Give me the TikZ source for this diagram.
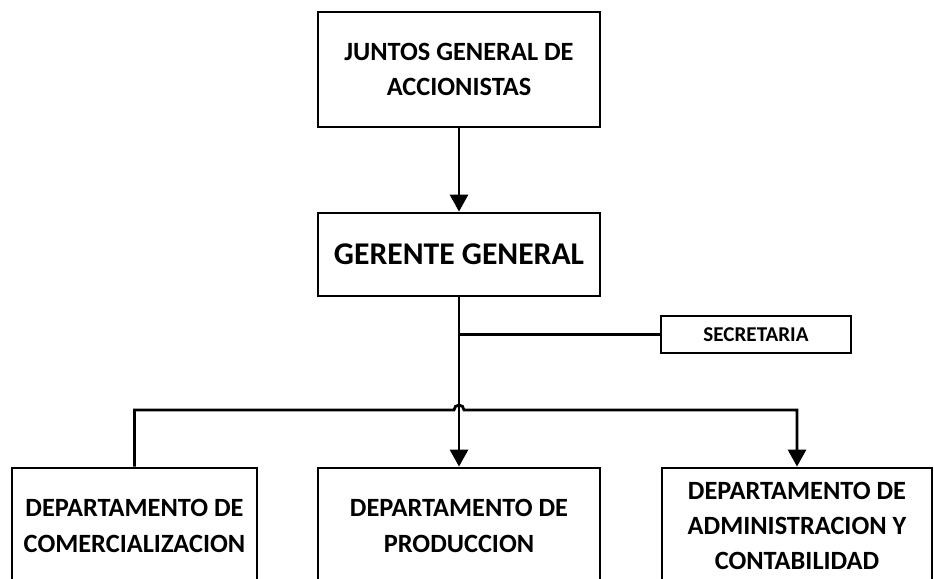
\documentclass[tikz,border=0pt]{standalone}
\usepackage{fontspec}
\setmainfont{Carlito}
\usetikzlibrary{arrows.meta}

\tikzset{
	caja/.style={draw, line width=1.6pt, align=center, font=\bfseries\fontsize{15}{20}\selectfont, inner sep=0pt},
	flecha/.style={line width=1.6pt, -{Triangle[width=0.36cm,length=0.34cm]}},
	linea/.style={line width=1.6pt}
}

\begin{document}
\begin{tikzpicture}
		\useasboundingbox (0,0) rectangle (18.68,-11.58);
		\clip (0,0) rectangle (18.68,-11.58);
		%Cajas
		\node [caja, minimum width=5.64cm, minimum height=2.3cm] (junta) at (9.18,-1.39) {JUNTOS GENERAL DE\\ACCIONISTAS};
		\node [caja, minimum width=5.64cm, minimum height=1.66cm, font=\bfseries\fontsize{18}{22}\selectfont] (gerente) at (9.18,-5.09) {GERENTE GENERAL};
		\node [caja, minimum width=3.8cm, minimum height=0.74cm, font=\bfseries\fontsize{12}{14}\selectfont] (secretaria) at (15.12,-6.69) {SECRETARIA};
		\node [caja, minimum width=4.9cm, minimum height=2.32cm] (comercial) at (2.69,-10.52) {DEPARTAMENTO DE\\COMERCIALIZACION};
		\node [caja, minimum width=5.64cm, minimum height=2.32cm] (produccion) at (9.18,-10.52) {DEPARTAMENTO DE\\PRODUCCION};
		\node [caja, minimum width=5.4cm, minimum height=2.32cm] (admin) at (15.94,-10.52) {DEPARTAMENTO DE\\ADMINISTRACION Y\\CONTABILIDAD};
		%Puntos
		\coordinate (busL) at (comercial.north |- 0,-8.2);
		\coordinate (hopL) at (9.08,-8.2);
		\coordinate (busR) at (admin.north |- 0,-8.2);
		%Flechas
		\draw [flecha] (junta) -- (gerente);
		\draw [flecha] (gerente) -- (produccion);
		\draw [linea] (gerente.south |- secretaria.west) -- (secretaria.west);
		\draw [flecha] (comercial.north) -- (busL) -- (hopL) arc (180:0:0.1) -- (busR) -- (admin.north);
	\end{tikzpicture}
\end{document}
